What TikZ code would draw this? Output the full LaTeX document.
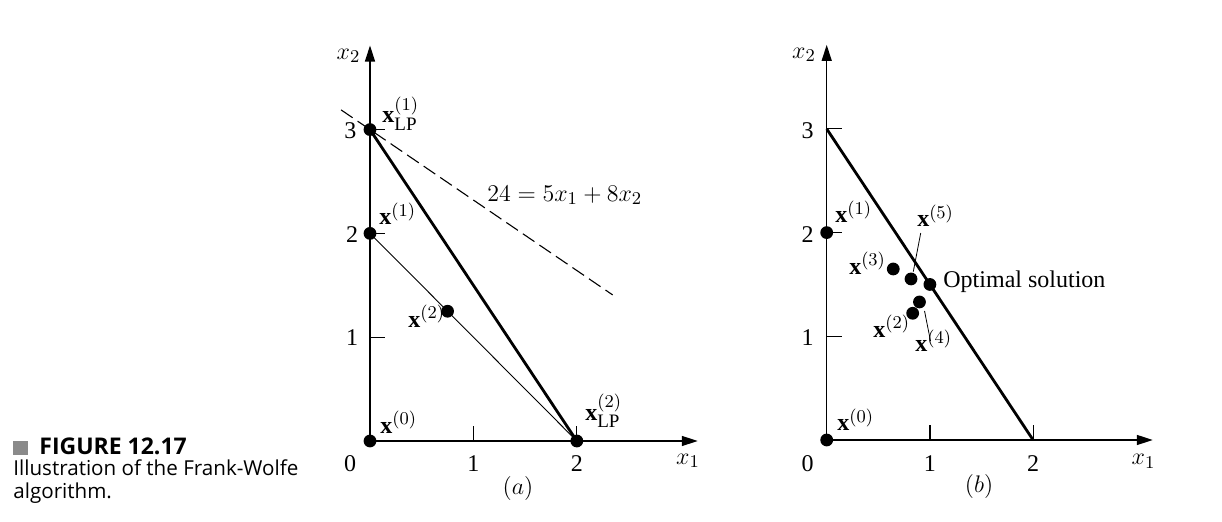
\documentclass[tikz,border=0pt]{standalone}
\usepackage{fontspec}
\setmainfont{Liberation Serif}
\newfontfamily\capfont{Open Sans}
\usetikzlibrary{arrows.meta}
\DeclareMathSizes{12}{12}{9.5}{7}
\definecolor{capgray}{RGB}{138,138,138}
\newcommand{\lpsub}{\lower2.5pt\hbox{$\scriptstyle\mathrm{LP}$}}
\begin{document}
\begin{tikzpicture}[x=0.5pt,y=-0.5pt,
  axis/.style={line width=0.7pt,-{Triangle[length=8pt,width=5pt]}},
  tickmark/.style={line width=0.6pt},
  feasible/.style={line width=1.4pt},
  thinseg/.style={line width=0.45pt},
  objline/.style={line width=0.55pt,dash pattern=on 7pt off 3pt},
  leader/.style={line width=0.4pt},
  dot/.style={circle,fill=black,inner sep=0pt,minimum size=6.4pt},
  lbl/.style={font=\fontsize{12}{14}\selectfont,inner sep=0pt},
  ptlbl/.style={lbl,anchor=base west},
  captxt/.style={font=\capfont\fontsize{10.3}{12}\selectfont,inner sep=0pt,anchor=base west},
  caphead/.style={font=\capfont\bfseries\fontsize{11.5}{14}\selectfont,inner sep=0pt,anchor=base west},
]
\useasboundingbox (0,0) rectangle (1222,522);

% caption
\fill[capgray] (13,441) rectangle (28,455);
\node[caphead] (cap1) at (39,455) {FIGURE 12.17};
\node[captxt] (cap2) at (13,476) {Illustration of the Frank-Wolfe};
\node[captxt] (cap3) at (13,499) {algorithm.};

% ---------------- panel (a)
\begin{scope}[shift={(185pt,-220.5pt)},x=51.7pt,y=51.9pt]
  \coordinate (aO) at (0,0);
  \coordinate (aXtip) at (3.17,0);
  \coordinate (aYtip) at (0,3.81);
  \coordinate (aDs) at (-0.28,3.19);
  \coordinate (aDe) at (2.347,1.407);
  \draw[axis] (aO) -- (aXtip);
  \draw[axis] (aO) -- (aYtip);
  \foreach \v in {1,2,3} \draw[tickmark] (0,\v) -- (0.145,\v);
  \foreach \v in {1,2} \draw[tickmark] (\v,0) -- (\v,0.14);
  \node[dot] (ax0) at (0,0) {};
  \node[dot] (ax1) at (0,2) {};
  \node[dot] (aLP1) at (0,3) {};
  \node[dot] (aLP2) at (2,0) {};
  \node[dot] (ax2) at (0.75,1.25) {};
  \draw[objline] (aDs) -- (aDe);
  \draw[feasible] (aLP1.center) -- (aLP2.center);
  \draw[thinseg] (ax1.center) -- (aLP2.center);
  \node[lbl] (at0) at (-0.193,-0.217) {0};
  \node[lbl] (at1) at (1,-0.217) {1};
  \node[lbl] (at2) at (2,-0.217) {2};
  \node[lbl] (ax1lab) at (3.075,-0.193) {$x_1$};
  \node[lbl] (acap) at (1.431,-0.453) {$(a)$};
  \node[lbl] (av3) at (-0.189,2.987) {3};
  \node[lbl] (av2) at (-0.174,1.985) {2};
  \node[lbl] (av1) at (-0.174,0.992) {1};
  \node[lbl] (ax2lab) at (-0.208,3.709) {$x_2$};
  \node[ptlbl] (lLP1) at (0.116,3.064) {$\mathbf{x}^{(1)}_{\lpsub}$};
  \node[ptlbl] (lx1) at (0.087,2.081) {$\mathbf{x}^{(1)}$};
  \node[ptlbl] (lx0) at (0.097,0.077) {$\mathbf{x}^{(0)}$};
  \node[ptlbl] (lx2) at (0.367,1.098) {$\mathbf{x}^{(2)}$};
  \node[ptlbl] (lLP2) at (2.079,0.202) {$\mathbf{x}^{(2)}_{\lpsub}$};
  \node[ptlbl] (lobj) at (1.132,2.312) {$24 = 5x_1 + 8x_2$};
\end{scope}

% ---------------- panel (b)
\begin{scope}[shift={(413.35pt,-220pt)},x=51.6pt,y=51.85pt]
  \coordinate (bO) at (0,0);
  \coordinate (bXtip) at (3.16,0);
  \coordinate (bYtip) at (0,3.81);
  \coordinate (bA) at (0,3);
  \coordinate (bB) at (2,0);
  \draw[axis] (bO) -- (bXtip);
  \draw[axis] (bO) -- (bYtip);
  \foreach \v in {1,2,3} \draw[tickmark] (0,\v) -- (0.145,\v);
  \foreach \v in {1,2} \draw[tickmark] (\v,0) -- (\v,0.14);
  \draw[feasible] (bA) -- (bB);
  \node[dot] (bx0) at (0,0) {};
  \node[dot] (bx1) at (0,2) {};
  \node[dot] (bx3) at (0.645,1.649) {};
  \node[dot] (bx5) at (0.817,1.553) {};
  \node[dot] (bopt) at (1,1.5) {};
  \node[dot] (bx4) at (0.899,1.331) {};
  \node[dot] (bx2) at (0.833,1.222) {};
  \node[lbl] (bt0) at (-0.186,-0.227) {0};
  \node[lbl] (bt1) at (1,-0.227) {1};
  \node[lbl] (bt2) at (2,-0.227) {2};
  \node[lbl] (bx1lab) at (3.07,-0.203) {$x_1$};
  \node[lbl] (bcap) at (1.476,-0.453) {$(b)$};
  \node[lbl] (bv3) at (-0.186,2.985) {3};
  \node[lbl] (bv2) at (-0.186,1.985) {2};
  \node[lbl] (bv1) at (-0.186,0.992) {1};
  \node[lbl] (bx2lab) at (-0.22,3.713) {$x_2$};
  \node[ptlbl] (mx1) at (0.08,2.093) {$\mathbf{x}^{(1)}$};
  \node[ptlbl] (mx0) at (0.10,0.087) {$\mathbf{x}^{(0)}$};
  \node[ptlbl] (mx5) at (0.874,2.054) {$\mathbf{x}^{(5)}$};
  \node[ptlbl] (mx3) at (0.215,1.60) {$\mathbf{x}^{(3)}$};
  \node[ptlbl] (mx2) at (0.448,0.993) {$\mathbf{x}^{(2)}$};
  \node[ptlbl] (mx4) at (0.855,0.849) {$\mathbf{x}^{(4)}$};
  \node[ptlbl] (mopt) at (1.127,1.466) {Optimal solution};
  \coordinate (l5a) at (0.911,1.996);
  \coordinate (l5b) at (0.839,1.623);
  \coordinate (l4a) at (0.948,1.244);
  \coordinate (l4b) at (1.006,0.955);
  \draw[leader] (l5a) -- (l5b);
  \draw[leader] (l4a) -- (l4b);
\end{scope}
\end{tikzpicture}
\end{document}
